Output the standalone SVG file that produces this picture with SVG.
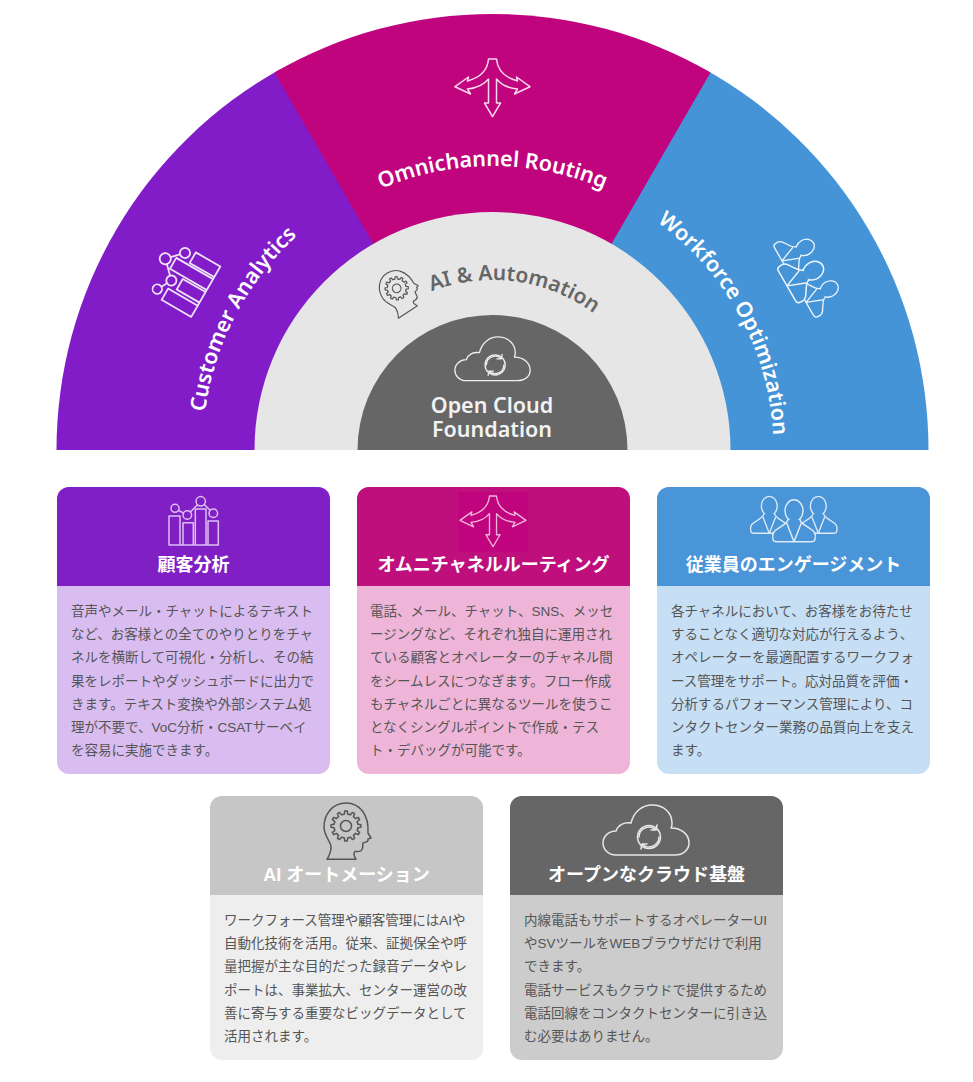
<svg xmlns="http://www.w3.org/2000/svg" width="973" height="1082" viewBox="0 0 973 1082">
<style>
.arc{font-family:"Noto Sans","Liberation Sans",sans-serif;font-weight:600;font-size:21.5px;fill:#fff;text-anchor:middle}
.h{font-family:"Liberation Sans","Noto Sans CJK JP",sans-serif;font-weight:700;font-size:18px;fill:#fff;text-anchor:middle}
.b{font-family:"Liberation Sans","Noto Sans CJK JP",sans-serif;font-size:13.5px;fill:#555}
.i{fill:none;stroke-width:1.5;stroke-linejoin:round;stroke-linecap:round}
</style>
<defs>
<path id="p290" d="M206.9,500.3 A290,290 0 1 1 778.1,500.3"/>
<path id="p284" d="M212.8,499.3 A284,284 0 1 1 772.2,499.3"/>
<path id="p281" d="M215.8,498.8 A281,281 0 1 1 769.2,498.8"/>
<path id="p170" d="M322.5,450 A170,170 0 0 1 662.5,450"/>
<path id="arrows" d="M-4,0 C-5,12 -14,19 -25,22 L-24,18 L-37.5,27.7 L-22,35 L-25,30 C-15,29 -8,25 -4,20 L-4,44 L-8,44 L0,57.7 L8,44 L4,44 L4,20 C8,25 15,29 25,30 L22,35 L37.5,27.7 L24,18 L25,22 C14,19 5,12 4,0 Z"/>
<g id="chart">
<path d="M-25,22 V-7 H-14 V22 M-11,22 V-0.3 H-0.7 V22 M1.3,22 V-14 H12 V22 M14,22 V-2 H24.3 V22 M-25,22 H24.3"/>
<circle cx="-19" cy="-14.7" r="4"/><circle cx="-6.7" cy="-8" r="4.3"/><circle cx="6.7" cy="-21.7" r="4.7"/><circle cx="19.3" cy="-9.7" r="4.3"/>
<path d="M-15.5,-12.7 L-10.5,-10 M-3.7,-11 L3.5,-18.3 M10.2,-18.5 L16.2,-12.7"/>
</g>
<g id="person">
<ellipse cx="0" cy="0" rx="9" ry="11"/>
<path d="M-6,9 C-7,13 -12,15 -16,18 C-20,20 -22,24 -21,28 Q-21,31 -17,31 L17,31 Q21,31 21,28 C22,24 20,20 16,18 C12,15 7,13 6,9 M-7,13 L0,31 L7,13"/>
</g>
<g id="people">
<use href="#person" transform="translate(-24.7,-4.7) scale(.88)"/>
<use href="#person" transform="translate(24.3,-4.7) scale(.88)"/>
<use href="#person"/>
</g>
<path id="head" d="M-19,33.3 L10,33.3 C8,30 7,27 9,25.5 C13,25.5 16,26 16.5,22 L17,17 C19,16 23,16 22,13 L25,12 L22,7 C23,-11 14,-23 0,-23 C-14,-23 -22,-11 -22,1 C-22,10 -15,16 -15,21 C-15,27 -17,30 -19,33.3 Z"/>
<path id="tooth" d="M-3.1,-11.59 L-1.67,-11.88 L-1.31,-14.94 L1.31,-14.94 L1.67,-11.88 L3.1,-11.59"/>
<g id="gear">
<use href="#tooth"/><use href="#tooth" transform="rotate(30)"/><use href="#tooth" transform="rotate(60)"/><use href="#tooth" transform="rotate(90)"/><use href="#tooth" transform="rotate(120)"/><use href="#tooth" transform="rotate(150)"/><use href="#tooth" transform="rotate(180)"/><use href="#tooth" transform="rotate(210)"/><use href="#tooth" transform="rotate(240)"/><use href="#tooth" transform="rotate(270)"/><use href="#tooth" transform="rotate(300)"/><use href="#tooth" transform="rotate(330)"/>
<circle r="5.5"/>
</g>
<g id="cloud">
<path d="M-30,0 C-38,0 -43,-6 -43,-12 C-43,-19 -37,-24 -30,-24 C-28,-30 -22,-33 -15,-32 C-12,-44 -3,-50 6,-50 C18,-50 26,-42 26,-32 C26,-30 26,-28 25,-27 C35,-27 43,-21 43,-12 C43,-5 37,0 29,0 Z"/>
<path d="M-7,-18 A10,10 0 0 1 10,-25 M10,-25 L11,-30 M10,-25 L5,-25 M13,-18 A10,10 0 0 1 -4,-11 M-4,-11 L-5,-6 M-4,-11 L1,-11"/>
<circle cx="3" cy="-18" r="11.5"/>
</g>
</defs>

<g id="fan">
<path id="sector-analytics" d="M56.5,450 A436,436 0 0 1 281.1,68.7 L492.5,450 Z" fill="#821CC8"/>
<path id="sector-workforce" d="M703.9,68.7 A436,436 0 0 1 928.5,450 L492.5,450 Z" fill="#4594D8"/>
<path id="sector-routing" d="M274.5,72.4 A436,436 0 0 1 710.5,72.4 L492.5,450 Z" fill="#C0047E"/>
<path id="ring-ai" d="M254.5,450 A238,238 0 0 1 730.5,450 Z" fill="#E6E6E6"/>
<path id="core-cloud" d="M357.5,450 A135,135 0 0 1 627.5,450 Z" fill="#666"/>
</g>
<g id="arc-analytics">
<use href="#chart" class="i" stroke="#F0E4FA" transform="translate(183.5,278.4) rotate(-60) scale(1.18)"/>
<text class="arc"><textPath href="#p290" startOffset="18.8%">Customer Analytics</textPath></text>
</g>
<g id="arc-routing">
<use href="#arrows" class="i" stroke="#F8D8EC" transform="translate(492.5,59)"/>
<text class="arc"><textPath href="#p284" startOffset="50%">Omnichannel Routing</textPath></text>
</g>
<g id="arc-workforce">
<use href="#people" class="i" style="fill:#4594D8" stroke="#F0F6FC" transform="translate(813.3,270.7) rotate(60) scale(.98)"/>
<text class="arc"><textPath href="#p281" startOffset="80.7%">Workforce Optimization</textPath></text>
</g>
<g id="arc-ai">
<g class="i" stroke="#555" stroke-width="1.2" transform="translate(396.7,288.3) rotate(-33) scale(.78)"><use href="#head"/><use href="#gear"/></g>
<text class="arc" style="fill:#666;font-size:21px"><textPath href="#p170" startOffset="54.3%">AI &amp; Automation</textPath></text>
</g>
<g id="arc-cloud">
<use href="#cloud" class="i" stroke="#EEE" transform="translate(492.5,380.7) scale(.875)"/>
<text class="arc" style="fill:#F2F2F2" x="492" y="413">Open Cloud</text>
<text class="arc" style="fill:#F2F2F2" x="492" y="437">Foundation</text>
</g>

<g id="card-analytics">
<rect x="57" y="487" width="273" height="287" rx="12" fill="#DABDF0"/>
<path d="M57,586 V499 A12,12 0 0 1 69,487 H318 A12,12 0 0 1 330,499 V586 Z" fill="#8020C4"/>
<use href="#chart" class="i" stroke="#DDBDF5" transform="translate(194,523)"/>
<text class="h" x="193.5" y="571">顧客分析</text>
<text class="b"><tspan x="71" y="616">音声やメール・チャットによるテキスト</tspan><tspan x="71" y="639.2">など、お客様との全てのやりとりをチャ</tspan><tspan x="71" y="662.4">ネルを横断して可視化・分析し、その結</tspan><tspan x="71" y="685.6">果をレポートやダッシュボードに出力で</tspan><tspan x="71" y="708.8">きます。テキスト変換や外部システム処</tspan><tspan x="71" y="732">理が不要で、VoC分析・CSATサーベイ</tspan><tspan x="71" y="755.2">を容易に実施できます。</tspan></text>
</g>
<g id="card-routing">
<rect x="357" y="487" width="273" height="287" rx="12" fill="#EEB5D8"/>
<path d="M357,586 V499 A12,12 0 0 1 369,487 H618 A12,12 0 0 1 630,499 V586 Z" fill="#BE0F7D"/>
<rect x="458" y="492" width="70" height="60" fill="#C0047E"/>
<use href="#arrows" class="i" stroke="#F0B8DC" transform="translate(493,496) scale(.88)"/>
<text class="h" x="493.5" y="571">オムニチャネルルーティング</text>
<text class="b"><tspan x="370" y="616">電話、メール、チャット、SNS、メッセ</tspan><tspan x="370" y="639.2">ージングなど、それぞれ独自に運用され</tspan><tspan x="370" y="662.4">ている顧客とオペレーターのチャネル間</tspan><tspan x="370" y="685.6">をシームレスにつなぎます。フロー作成</tspan><tspan x="370" y="708.8">もチャネルごとに異なるツールを使うこ</tspan><tspan x="370" y="732">となくシングルポイントで作成・テス</tspan><tspan x="370" y="755.2">ト・デバッグが可能です。</tspan></text>
</g>
<g id="card-workforce">
<rect x="657" y="487" width="273" height="287" rx="12" fill="#C7DFF5"/>
<path d="M657,586 V499 A12,12 0 0 1 669,487 H918 A12,12 0 0 1 930,499 V586 Z" fill="#4A94D8"/>
<use href="#people" class="i" style="fill:#4A94D8" stroke="#DCEBF8" transform="translate(794,510.7)"/>
<text class="h" x="793.5" y="571">従業員のエンゲージメント</text>
<text class="b"><tspan x="671" y="616">各チャネルにおいて、お客様をお待たせ</tspan><tspan x="671" y="639.2">することなく適切な対応が行えるよう、</tspan><tspan x="671" y="662.4">オペレーターを最適配置するワークフォ</tspan><tspan x="671" y="685.6">ース管理をサポート。応対品質を評価・</tspan><tspan x="671" y="708.8">分析するパフォーマンス管理により、コ</tspan><tspan x="671" y="732">ンタクトセンター業務の品質向上を支え</tspan><tspan x="671" y="755.2">ます。</tspan></text>
</g>
<g id="card-ai">
<rect x="210" y="796" width="273" height="264" rx="12" fill="#EEE"/>
<path d="M210,895 V808 A12,12 0 0 1 222,796 H471 A12,12 0 0 1 483,808 V895 Z" fill="#C6C6C6"/>
<g class="i" stroke="#555" transform="translate(346,826)"><use href="#head"/><use href="#gear"/></g>
<text class="h" x="346.5" y="881">AI オートメーション</text>
<text class="b"><tspan x="224" y="925">ワークフォース管理や顧客管理にはAIや</tspan><tspan x="224" y="948.2">自動化技術を活用。従来、証拠保全や呼</tspan><tspan x="224" y="971.4">量把握が主な目的だった録音データやレ</tspan><tspan x="224" y="994.6">ポートは、事業拡大、センター運営の改</tspan><tspan x="224" y="1017.8">善に寄与する重要なビッグデータとして</tspan><tspan x="224" y="1041">活用されます。</tspan></text>
</g>
<g id="card-cloud">
<rect x="510" y="796" width="273" height="264" rx="12" fill="#CCC"/>
<path d="M510,895 V808 A12,12 0 0 1 522,796 H771 A12,12 0 0 1 783,808 V895 Z" fill="#666"/>
<use href="#cloud" class="i" stroke="#E8E8E8" transform="translate(646,855)"/>
<text class="h" x="646.5" y="881">オープンなクラウド基盤</text>
<text class="b"><tspan x="524" y="925">内線電話もサポートするオペレーターUI</tspan><tspan x="524" y="948.2">やSVツールをWEBブラウザだけで利用</tspan><tspan x="524" y="971.4">できます。</tspan><tspan x="524" y="994.6">電話サービスもクラウドで提供するため</tspan><tspan x="524" y="1017.8">電話回線をコンタクトセンターに引き込</tspan><tspan x="524" y="1041">む必要はありません。</tspan></text>
</g>
</svg>
